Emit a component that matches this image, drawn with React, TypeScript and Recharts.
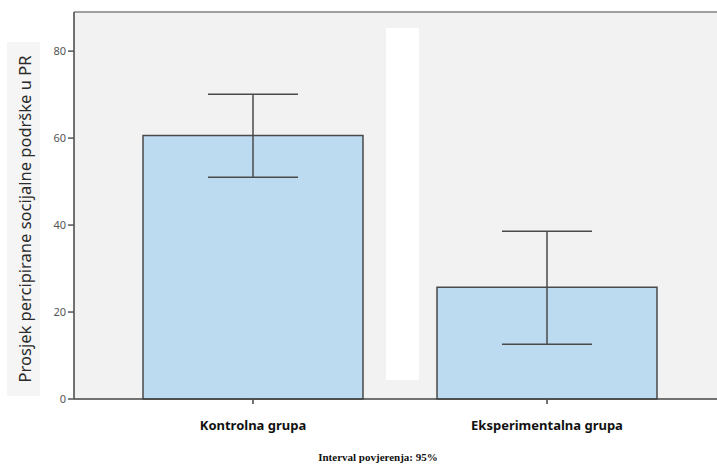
import React from "react";
import {
  BarChart,
  Bar,
  XAxis,
  YAxis,
  ErrorBar,
  CartesianGrid,
  ReferenceLine,
} from "recharts";

const groups = ["Kontrolna grupa", "Eksperimentalna grupa"];
const means = [60.6, 25.7];
const ciLow = [51.0, 12.6];
const ciHigh = [70.1, 38.6];
const yTicks = [0, 20, 40, 60, 80];

const data = groups.map((g, i) => ({
  group: g,
  mean: means[i],
  ci: [means[i] - ciLow[i], ciHigh[i] - means[i]],
}));

const SANS = "'Noto Sans', 'Open Sans', sans-serif";

const CategoryTick = (props: any) => {
  const { x, y, payload } = props;
  return (
    <text
      x={x}
      y={y + 24}
      textAnchor="middle"
      fontFamily={SANS}
      fontWeight={700}
      fontSize={13}
      fill="#111"
    >
      {payload.value}
    </text>
  );
};

const YTitle = () => (
  <g>
    <rect x={7} y={42} width={33} height={354} fill="#f5f5f5" />
    <text
      x={0}
      y={0}
      transform="translate(24, 219) rotate(-90)"
      textAnchor="middle"
      dominantBaseline="central"
      fontFamily={SANS}
      fontSize={16.5}
      fill="#2a2a2a"
    >
      Prosjek percipirane socijalne podrške u PR
    </text>
  </g>
);

export default function App() {
  return (
    <div
      style={{
        position: "absolute",
        left: 0,
        top: 0,
        width: 717,
        height: 464,
        background: "#fff",
      }}
    >
      <BarChart
        width={717}
        height={464}
        data={data}
        margin={{ top: 12, right: 0, left: 0, bottom: 35 }}
      >
        <CartesianGrid fill="#f2f2f2" stroke="#f2f2f2" strokeOpacity={0} />
        <ReferenceLine y={89} stroke="#a0a0a0" strokeWidth={2} />
        <XAxis
          dataKey="group"
          height={30}
          padding={{ left: 32, right: 23 }}
          tick={<CategoryTick />}
          tickSize={5}
          tickLine={{ stroke: "#444", strokeWidth: 1.5 }}
          axisLine={{ stroke: "#444", strokeWidth: 1.5 }}
        />
        <YAxis
          width={74}
          domain={[0, 89]}
          ticks={yTicks}
          tickSize={6}
          tickMargin={2}
          tick={{ fontSize: 11, fill: "#555", fontFamily: SANS }}
          tickLine={{ stroke: "#555", strokeWidth: 1.5 }}
          axisLine={{ stroke: "#444", strokeWidth: 1.5 }}
          label={{ content: <YTitle /> }}
        />
        <Bar
          dataKey="mean"
          barSize={220}
          fill="#bcdaf0"
          stroke="#4a4a4a"
          strokeWidth={1.5}
          isAnimationActive={false}
        >
          <ErrorBar
            dataKey="ci"
            width={45}
            stroke="#4a4a4a"
            strokeWidth={1.5}
            isAnimationActive={false}
          />
        </Bar>
      </BarChart>
      {/* white strip over the plot between the two groups */}
      <div
        style={{
          position: "absolute",
          left: 386,
          top: 28,
          width: 33,
          height: 352,
          background: "#fff",
        }}
      />
      <div
        style={{
          position: "absolute",
          left: 0,
          width: 756,
          top: 451,
          textAlign: "center",
          fontFamily: "'Liberation Serif', 'Times New Roman', serif",
          fontWeight: 700,
          fontSize: 11,
          color: "#111",
        }}
      >
        Interval povjerenja: 95%
      </div>
    </div>
  );
}
